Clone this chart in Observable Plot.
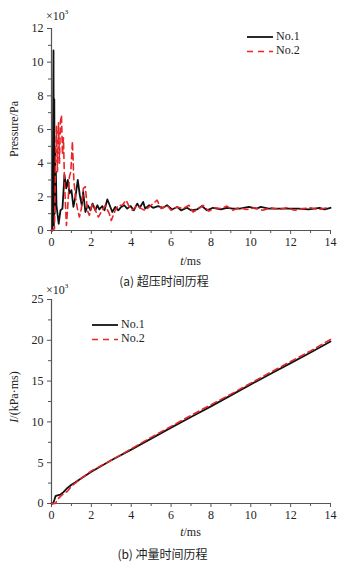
<!DOCTYPE html>
<html><head><meta charset="utf-8">
<script src="https://cdn.jsdelivr.net/npm/d3@7"></script>
<script src="https://cdn.jsdelivr.net/npm/@observablehq/plot@0.6"></script>
<style>
body{margin:0;background:#fff;}
#wrap{position:relative;width:351px;height:562px;}
#wrap svg{position:absolute;left:0;}
#wrap svg text{font-family:"Liberation Serif","Times New Roman",serif;font-size:12px;}
.cap{position:absolute;left:0;width:328px;text-align:center;font-family:"Noto Sans CJK SC",sans-serif;font-size:12px;color:#222;line-height:18px;}
</style></head><body><div id="wrap"></div>
<script>
// ---- (a) overpressure history, ×10^3 Pa ----
const t1 = [0,0.05,0.08,0.1,0.12,0.14,0.16,0.18,0.2,0.22,0.25,0.3,0.36,0.45,0.55,0.65,0.74,0.82,0.9,1.0,1.1,1.2,1.32,1.42,1.52,1.59,1.7,1.82,1.96,2.06,2.2,2.3,2.4,2.55,2.66,2.8,2.92,3.05,3.2,3.35,3.5,3.65,3.8,3.97,4.13,4.3,4.43,4.6,4.7,4.9,5.1,5.35,5.6,5.8,6.05,6.3,6.5,6.8,7.0,7.3,7.55,7.8,8.1,8.5,8.8,9.1,9.45,9.9,10.3,10.5,10.9,11.4,11.9,12.4,12.9,13.45,13.7,14];
const p1 = [0,0,6,10.7,0.3,7.8,1.0,4.8,2.0,3.5,1.5,1.0,0.4,1.2,1.3,3.3,2.5,3.0,2.2,2.4,1.4,2.0,3.0,2.1,1.5,2.3,1.1,1.5,1.2,1.6,1.2,1.5,1.25,1.45,1.2,1.85,1.5,1.1,1.4,1.2,1.4,1.5,1.3,1.45,1.2,1.6,1.35,1.7,1.3,1.5,1.35,1.45,1.35,1.5,1.25,1.4,1.2,1.35,1.2,1.25,1.45,1.2,1.35,1.25,1.35,1.3,1.3,1.4,1.3,1.4,1.3,1.3,1.3,1.3,1.25,1.35,1.25,1.35];
const t2 = [0,0.15,0.2,0.25,0.3,0.35,0.4,0.45,0.5,0.55,0.6,0.65,0.7,0.75,0.82,0.9,0.97,1.05,1.12,1.2,1.3,1.4,1.5,1.6,1.7,1.8,1.9,2.0,2.1,2.2,2.35,2.5,2.7,2.9,3.0,3.2,3.35,3.55,3.75,3.9,4.05,4.3,4.5,4.7,5.0,5.3,5.5,5.8,6.0,6.3,6.6,6.9,7.1,7.4,7.6,7.9,8.2,8.5,8.8,9.1,9.4,9.8,10.2,10.6,11.0,11.4,11.8,12.2,12.6,13.0,13.4,13.8];
const p2 = [0,0.1,4,6.2,3.5,6.4,4.0,6.5,6.85,4.5,5.5,3.0,1.5,0.3,1.5,3.2,3.5,5.3,3.0,2.0,1.3,0.8,1.3,2.5,2.6,1.2,0.9,1.4,1.6,1.2,0.8,1.1,1.5,1.0,0.6,1.2,1.5,1.5,1.8,1.4,1.2,1.5,1.3,1.2,1.5,1.8,1.3,1.5,1.2,1.4,1.3,1.5,1.1,1.3,1.5,1.15,1.35,1.3,1.45,1.2,1.35,1.25,1.35,1.2,1.35,1.25,1.35,1.2,1.3,1.35,1.25,1.35];
// ---- (b) impulse history, ×10^3 ----
const tI1 = [0,0.08,0.15,0.2,0.3,0.45,0.6,0.8,1.0,1.2,1.5,2,2.5,3,4,5,6,7,8,9,10,11,12,13,14];
const I1  = [0,0,0.5,0.9,1.0,1.1,1.4,1.9,2.3,2.6,3.1,3.9,4.6,5.3,6.6,7.95,9.3,10.6,11.9,13.25,14.6,15.9,17.2,18.5,19.85];
const tI2 = [0,0.2,0.3,0.5,0.8,1,1.5,2,3,4,5,6,7,8,9,10,11,12,13,14];
const I2  = [0,0,0.5,1.0,1.5,2.1,3.1,4.0,5.3,6.7,8.1,9.45,10.8,12.1,13.4,14.75,16.1,17.4,18.7,20.1];

const seriesNames = ["No.1","No.2"];
const xMajor = [0,2,4,6,8,10,12,14];
const xMinor = [1,3,5,7,9,11,13];
const yMajorA = [0,2,4,6,8,10,12];
const yMinorA = [1,3,5,7,9,11];
const yMajorB = [0,5,10,15,20,25];
const yMinorB = [2.5,7.5,12.5,17.5,22.5];
const captions = ["(a) 超压时间历程","(b) 冲量时间历程"];

const BLACK = "#111", RED = "#e8262a", AX = "#555", TXT = "#222";
const FONT = "Liberation Serif";

function toRows(ts, vs){ return ts.map((t,i)=>({t, v: vs[i]})); }

function makeChart(o){
  const plot = Plot.plot({
    width: 351, height: o.height,
    marginTop: o.mt, marginBottom: o.mb, marginLeft: 51, marginRight: 21,
    style: {fontFamily: FONT, fontSize: "12px", color: TXT, background: "transparent", overflow: "visible"},
    x: {domain: [0,14], label: null},
    y: {domain: o.ydom, label: null},
    marks: [
      Plot.axisX(xMajor, {tickSize: 4, tickPadding: 3, stroke: AX, fill: TXT}),
      Plot.axisX(xMinor, {tickSize: 3, tickFormat: () => "", stroke: AX}),
      Plot.axisY(o.yMajor, {tickSize: 4, tickPadding: 4, stroke: AX, fill: TXT}),
      Plot.axisY(o.yMinor, {tickSize: 3, tickFormat: () => "", stroke: AX}),
      Plot.ruleX([0], {stroke: AX, strokeWidth: 1.2}),
      Plot.ruleY([o.ydom[0]], {stroke: AX, strokeWidth: 1.2}),
      Plot.line(o.s1, {x: "t", y: "v", stroke: BLACK, strokeWidth: 1.8}),
      Plot.line(o.s2, {x: "t", y: "v", stroke: RED, strokeWidth: 1.6, strokeDasharray: "6,4"})
    ]
  });
  plot.style.top = o.top + "px";
  const svg = d3.select(plot);
  const x = plot.scale("x");
  const cx = (x.apply(0) + x.apply(14)) / 2;
  // x-axis title
  const xt = svg.append("text").attr("x", cx).attr("y", o.xTitleY)
    .attr("text-anchor","middle").attr("dominant-baseline","middle").attr("fill", TXT);
  xt.append("tspan").attr("font-style","italic").text("t");
  xt.append("tspan").text("/ms");
  // y-axis title
  const yt = svg.append("text").attr("transform", `translate(${o.yTitleX},${o.yTitleY}) rotate(-90)`)
    .attr("text-anchor","middle").attr("dominant-baseline","middle").attr("fill", TXT);
  o.yTitle(yt);
  // ×10^3
  const ex = svg.append("text").attr("x", 46).attr("y", o.expY).attr("text-anchor","start")
    .attr("dominant-baseline","middle").attr("fill", TXT);
  ex.append("tspan").text("×10");
  ex.append("tspan").attr("style", "font-size:7px").attr("dy", -5).text("3");
  // legend
  seriesNames.forEach((name, i) => {
    const ly = o.legY + i * 14.5;
    svg.append("line").attr("x1", o.legX).attr("x2", o.legX + 26).attr("y1", ly).attr("y2", ly)
      .attr("stroke", i ? RED : BLACK).attr("stroke-width", i ? 1.6 : 1.8)
      .attr("stroke-dasharray", i ? "6,5" : null);
    svg.append("text").attr("x", o.legX + 29).attr("y", ly).attr("text-anchor","start")
      .attr("dominant-baseline","middle").attr("fill", TXT).text(name);
  });
  return plot;
}

const wrap = document.getElementById("wrap");

wrap.append(makeChart({
  top: 0, height: 272, mt: 28, mb: 42, ydom: [0,12], yMajor: yMajorA, yMinor: yMinorA,
  s1: toRows(t1,p1), s2: toRows(t2,p2),
  xTitleY: 262, yTitleX: 15, yTitleY: 129, expY: 17,
  yTitle: (t) => t.text("Pressure/Pa"),
  legX: 247, legY: 37
}));
const c1 = document.createElement("div"); c1.className = "cap"; c1.style.top = "272px"; c1.textContent = captions[0];
wrap.append(c1);

wrap.append(makeChart({
  top: 284, height: 258, mt: 15, mb: 39, ydom: [0,25], yMajor: yMajorB, yMinor: yMinorB,
  s1: toRows(tI1,I1), s2: toRows(tI2,I2),
  xTitleY: 249, yTitleX: 15, yTitleY: 113, expY: 7,
  yTitle: (t) => { t.append("tspan").attr("font-style","italic").text("I"); t.append("tspan").text("/(kPa·ms)"); },
  legX: 92, legY: 41
}));
const c2 = document.createElement("div"); c2.className = "cap"; c2.style.top = "545px"; c2.style.width = "325px"; c2.textContent = captions[1];
wrap.append(c2);
</script>
</body></html>
